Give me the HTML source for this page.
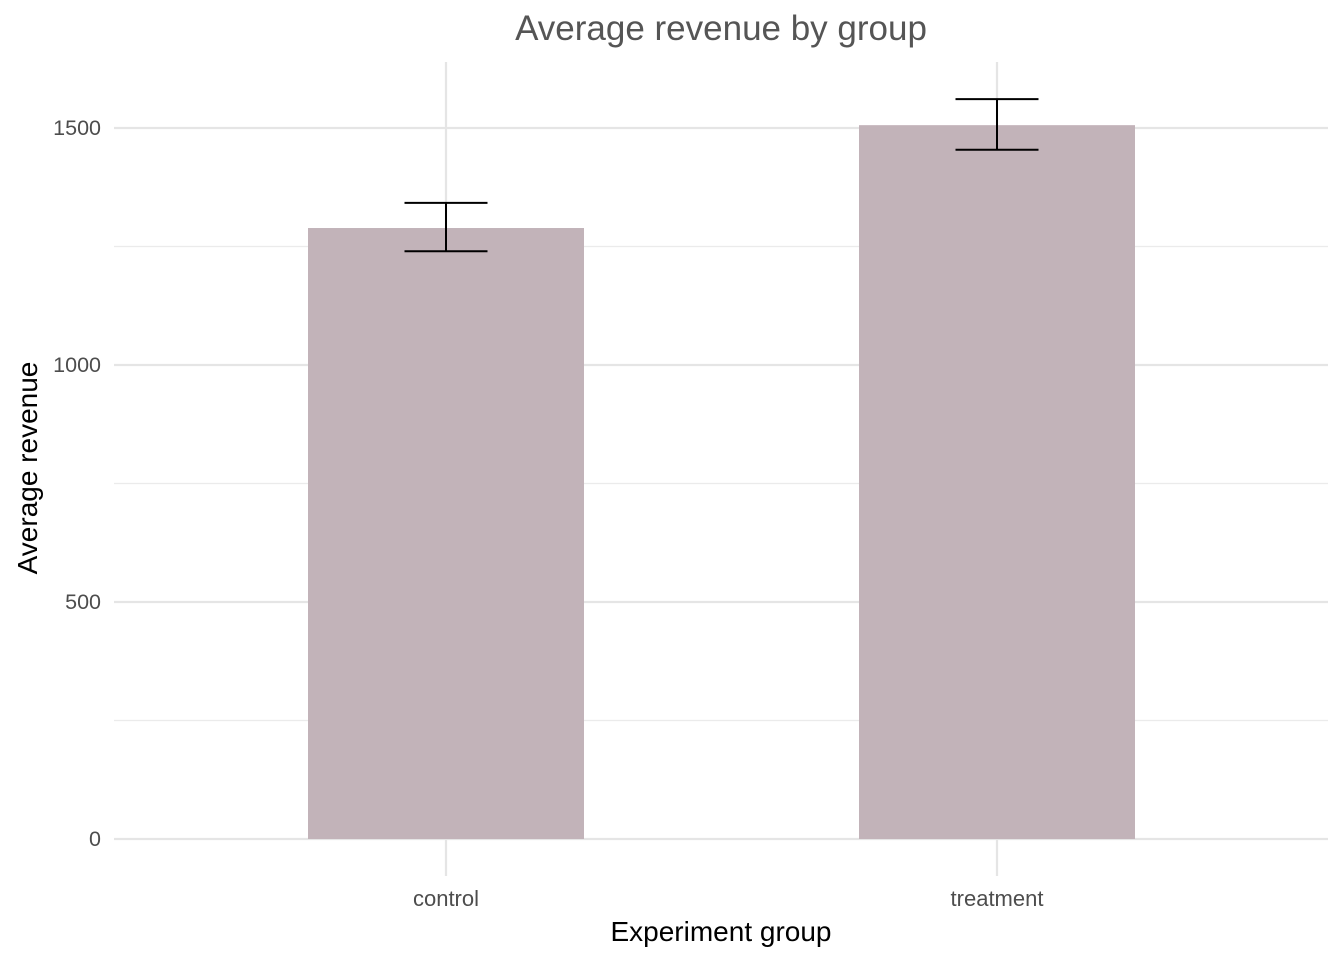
<!DOCTYPE html>
<html><head><meta charset="utf-8"><style>
body{margin:0;background:#fff;}
svg{display:block;font-family:"Liberation Sans",Arial,sans-serif;}
</style></head><body>
<svg id="chart" width="1344" height="960"></svg>
<script>
const categories=["control","treatment"];
const means=[1289,1506];
const lowers=[1240,1454];
const uppers=[1342,1561];
const yTicks=[0,500,1000,1500];
const yMinor=[250,750,1250];

const NS="http://www.w3.org/2000/svg";
const svg=document.getElementById("chart");
const y0=839, pxPer=237/500;
const yScale=v=>y0-v*pxPer;
const xCenters={control:446,treatment:997};
const xScale=c=>xCenters[c];
const barW=276, capW=83, left=114, right=1328;
function mk(tag,attrs,name){const e=document.createElementNS(NS,tag);for(const k in attrs)e.setAttribute(k,attrs[k]);


svg.appendChild(e);return e;}
yMinor.forEach(v=>mk("line",{x1:left,x2:right,y1:yScale(v),y2:yScale(v),stroke:"#ebebeb","stroke-width":1.2},"minor-gridline"));
yTicks.forEach(v=>{mk("line",{x1:left,x2:right,y1:yScale(v),y2:yScale(v),stroke:"#e5e5e5","stroke-width":2.2},"major-gridline");
const t=mk("text",{x:101,y:yScale(v)+7,"text-anchor":"end","font-size":21.5,fill:"#4d4d4d"},"y-tick-label");t.textContent=v;});
categories.forEach(c=>{mk("line",{x1:xScale(c),x2:xScale(c),y1:62,y2:876,stroke:"#e5e5e5","stroke-width":2.2},"x-gridline");
const t=mk("text",{x:xScale(c),y:906,"text-anchor":"middle","font-size":22,fill:"#4d4d4d"},"x-tick-label");t.textContent=c;});
categories.forEach((c,i)=>{const x=xScale(c);
mk("rect",{x:x-barW/2,y:yScale(means[i]),width:barW,height:yScale(0)-yScale(means[i]),fill:"#c2b3b9"},"bar-"+c);
mk("line",{x1:x,x2:x,y1:yScale(uppers[i]),y2:yScale(lowers[i]),stroke:"#000","stroke-width":2},"errorbar-"+c);
mk("line",{x1:x-capW/2,x2:x+capW/2,y1:yScale(uppers[i]),y2:yScale(uppers[i]),stroke:"#000","stroke-width":2},"errorbar-cap-upper");
mk("line",{x1:x-capW/2,x2:x+capW/2,y1:yScale(lowers[i]),y2:yScale(lowers[i]),stroke:"#000","stroke-width":2},"errorbar-cap-lower");});
let t=mk("text",{x:721,y:40,"text-anchor":"middle","font-size":35,fill:"#555"},"chart-title");t.textContent="Average revenue by group";
t=mk("text",{x:721,y:941,"text-anchor":"middle","font-size":28,fill:"#000"},"x-axis-title");t.textContent="Experiment group";
t=mk("text",{x:0,y:0,"text-anchor":"middle","font-size":28,fill:"#000",transform:"translate(37,468) rotate(-90)"},"y-axis-title");t.textContent="Average revenue";
</script>
</body></html>
